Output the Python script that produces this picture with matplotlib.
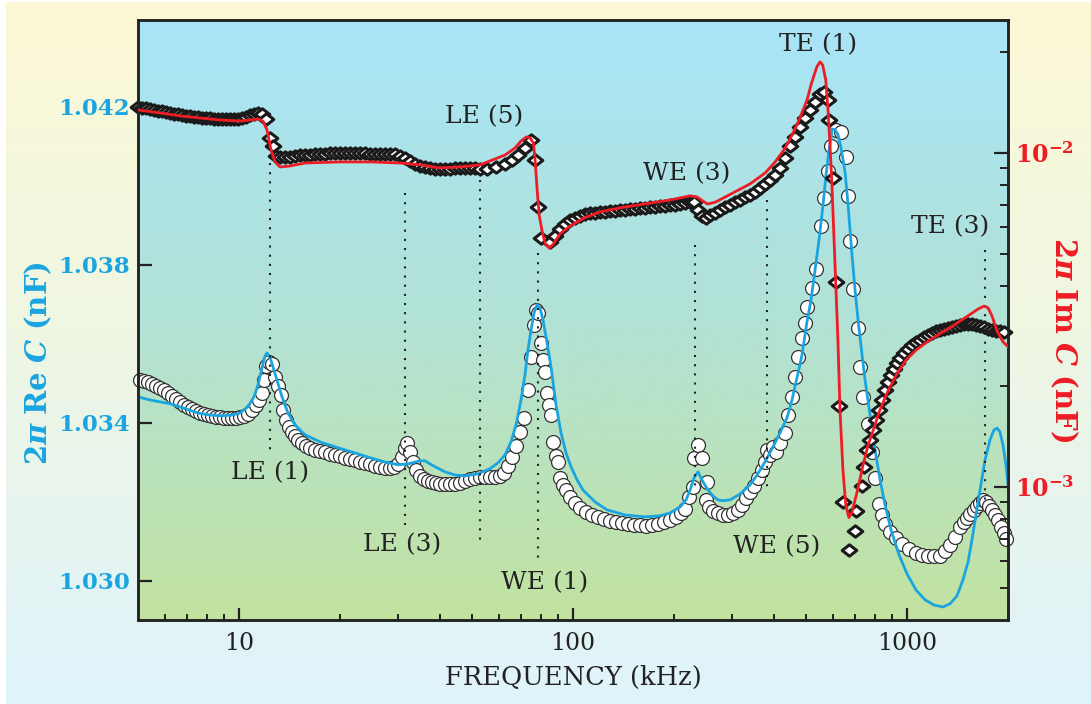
import numpy as np
import matplotlib
matplotlib.use("Agg")
import matplotlib.pyplot as plt
from matplotlib.path import Path
from matplotlib.ticker import FixedLocator, NullFormatter
from matplotlib.colors import LinearSegmentedColormap

plt.rcParams['font.family'] = 'DejaVu Serif'
plt.rcParams['mathtext.fontset'] = 'dejavuserif'

# ---------------------------------------------------------------- data
# Imaginary part, measured (kHz, units of 1e-3 nF)
freq_im = [4.985, 5.124, 5.267, 5.414, 5.566, 5.721, 5.881, 6.045, 6.214, 6.388,
           6.566, 6.749, 6.938, 7.132, 7.331, 7.536, 7.746, 7.963, 8.185, 8.414,
           8.649, 8.890, 9.139, 9.394, 9.660, 9.931, 10.21, 10.49, 10.79, 11.09,
           11.40, 11.72, 12.05, 12.38, 12.64, 12.90,
           13.27, 13.73, 14.21, 14.72, 15.22, 15.76, 16.32, 16.89, 17.48, 18.09,
           18.73, 19.39, 20.06, 20.77, 21.49, 22.25, 23.03, 23.84, 24.68, 25.54,
           26.44, 27.36, 28.32, 29.32, 30.34, 31.41, 32.51, 33.65, 34.83, 36.06,
           37.32, 38.63, 39.98, 41.39, 42.83, 44.34, 45.89, 47.50, 49.17, 50.89,
           52.68, 55.28, 58.82, 62.58, 65.68, 68.46, 71.83, 74.87, 76.96, 78.58, 80.21,
           85.34, 88.34, 91.44, 94.63, 97.95, 101.4, 104.9, 108.6, 112.4, 116.4,
           120.4, 124.7, 129.1, 133.6, 138.3, 143.1, 148.2, 153.3, 158.7, 164.3,
           170.1, 176.1, 182.2, 188.6, 195.2, 202.1, 209.2, 216.5, 224.1, 230.4,
           236.8, 243.4, 250.1, 257.1, 266.1, 275.5, 285.1, 295.2, 305.5, 316.2,
           327.3, 338.8, 350.6, 362.9, 375.7, 388.8, 402.5, 416.7, 431.2, 446.3,
           462.0, 478.2, 495.0, 512.4, 529.0, 549.0, 562.8, 578.5, 582.5, 598.8,
           611.3, 624.1, 641.6, 701.7, 696.9, 668.6,
           733.4, 743.6, 759.1, 774.9, 791.1, 807.6, 824.6, 841.8, 859.4, 877.4,
           895.7, 914.5, 933.5, 952.8, 979.5, 1007, 1035, 1064, 1094, 1124,
           1156, 1188, 1221, 1256, 1291, 1327, 1364, 1402, 1441, 1482,
           1522, 1565, 1609, 1654, 1700, 1748, 1797, 1847, 1898, 1952]
im_data = [13.73, 13.64, 13.64, 13.55, 13.45, 13.36, 13.36, 13.27, 13.18, 13.09,
           13.09, 12.99, 12.91, 12.91, 12.82, 12.82, 12.73, 12.73, 12.73, 12.64,
           12.64, 12.64, 12.64, 12.64, 12.64, 12.64, 12.73, 12.82, 12.99, 13.09,
           13.18, 13.09, 12.64, 11.09, 10.49, 9.80,
           9.73, 9.73, 9.73, 9.80, 9.86, 9.86, 9.86, 9.93, 9.93, 9.93,
           10.00, 10.00, 10.00, 10.00, 10.00, 10.00, 10.00, 10.00, 9.93, 9.93,
           9.93, 9.93, 9.93, 9.93, 9.80, 9.66, 9.46, 9.27, 9.14, 9.08,
           9.02, 8.96, 8.96, 8.96, 8.96, 9.02, 9.02, 9.02, 9.02, 9.02,
           8.96, 8.96, 9.08, 9.27, 9.53, 9.86, 10.35, 10.94, 9.53, 6.89, 5.57,
           5.41, 5.64, 5.92, 6.13, 6.30, 6.39, 6.48, 6.57, 6.61, 6.61,
           6.66, 6.66, 6.71, 6.71, 6.75, 6.75, 6.80, 6.80, 6.85, 6.85,
           6.89, 6.89, 6.94, 6.94, 6.99, 6.99, 7.03, 7.08, 7.13, 7.13,
           6.75, 6.48, 6.39, 6.52, 6.61, 6.75, 6.89, 6.99, 7.13, 7.23,
           7.38, 7.49, 7.64, 7.86, 8.08, 8.30, 8.59, 9.02, 9.66, 10.49,
           11.17, 11.96, 12.73, 13.45, 14.22, 15.01, 15.22, 14.41, 12.55, 8.41,
           4.11, 1.75, 0.90, 0.85, 0.74, 0.65,
           1.007, 1.148, 1.291, 1.383, 1.482, 1.588, 1.700, 1.822, 1.952, 2.063,
           2.164, 2.256, 2.351, 2.433, 2.518, 2.589, 2.661, 2.717, 2.754, 2.812,
           2.851, 2.891, 2.931, 2.951, 2.972, 2.992, 3.013, 3.034, 3.055, 3.076,
           3.076, 3.076, 3.055, 3.034, 3.013, 2.972, 2.951, 2.931, 2.931, 2.911]

# Imaginary part, model curve
freq_im_fit = [4.985, 5.80, 6.66, 7.64, 8.77, 10.07, 10.79, 11.40, 11.80, 12.13,
               12.47, 12.82, 13.27, 14.21, 15.77, 20.06, 24.85, 30.34, 35.1, 39.7,
               45.89, 52.68, 62.6, 67.1, 69.9, 72.6, 74.36, 76.1, 77.0, 78.1,
               79.2, 80.9, 82.46, 84.9, 87.3, 91.44, 97.95, 107.9, 120.4, 138.3,
               170.1, 195.2, 224.1, 235.5, 244.6, 253.0, 267.3, 301, 339, 376,
               403, 432, 456, 478, 502, 518, 537, 549, 559, 571,
               580, 588, 596, 608, 621, 630, 643, 656, 670, 684,
               713, 738, 764, 796, 824, 871, 927, 993, 1064, 1172,
               1345, 1492, 1632, 1700, 1748, 1797, 1860, 1939, 2006]
im_fit = [13.45, 13.18, 12.91, 12.73, 12.55, 12.46, 12.55, 12.64, 12.46, 11.72,
          10.21, 9.40, 9.08, 9.14, 9.33, 9.40, 9.40, 9.33, 9.21, 9.02,
          9.08, 9.21, 9.86, 10.35, 10.86, 11.17, 11.10, 10.71, 9.53, 7.75,
          6.52, 5.80, 5.37, 5.19, 5.34, 5.73, 6.04, 6.39, 6.66, 6.85,
          7.08, 7.23, 7.44, 7.38, 7.18, 7.03, 7.13, 7.59, 8.08, 8.71,
          9.40, 10.35, 11.48, 12.73, 14.41, 16.21, 18.10, 18.73, 18.34, 16.54,
          13.45, 10.57, 8.02, 4.78, 2.76, 1.70, 1.12, 0.88, 0.81, 0.84,
          0.99, 1.16, 1.33, 1.50, 1.67, 1.91, 2.16, 2.40, 2.57, 2.76,
          3.00, 3.21, 3.41, 3.48, 3.44, 3.25, 2.93, 2.72, 2.63]

# Real part, measured (kHz, nF)
freq_re = [5.053, 5.194, 5.339, 5.489, 5.643, 5.800, 5.962, 6.129, 6.300, 6.476,
           6.657, 6.843, 7.034, 7.231, 7.433, 7.641, 7.854, 8.074, 8.300, 8.531,
           8.770, 9.015, 9.267, 9.529, 9.795, 10.07, 10.35, 10.64, 10.94, 11.25,
           11.48, 11.72, 11.88, 12.05, 12.30, 12.55, 12.81, 13.08, 13.36, 13.55,
           13.83, 14.12, 14.41, 14.71, 15.02, 15.43, 15.86, 16.32, 16.89, 17.48,
           18.09, 18.73, 19.39, 20.06, 20.77, 21.49, 22.25, 23.03, 23.84, 24.68,
           25.54, 26.44, 27.36, 28.32, 29.11, 29.93, 30.76, 31.41, 31.84, 32.51,
           33.19, 33.88, 34.83, 35.80, 36.80, 37.84, 38.90, 39.98, 41.39, 42.83,
           44.34, 45.89, 47.50, 49.17, 50.89, 52.68, 54.52, 56.44, 58.42, 60.46,
           62.15, 63.89, 65.68, 67.51, 69.40, 71.34, 73.33, 74.87, 76.43, 77.50,
           78.58, 80.21, 81.32, 82.46, 83.60, 84.76, 85.93, 87.12, 88.94, 90.18,
           91.44, 93.35, 95.30, 97.95, 101.4, 104.9, 109.3, 114.0, 118.8, 123.8,
           129.1, 134.5, 140.2, 146.1, 152.3, 158.7, 165.4, 172.5, 179.7, 187.3,
           195.2, 203.4, 210.6, 216.5, 222.6, 228.8, 230.4, 236.8, 243.3, 251.9,
           250.1, 255.4, 262.5, 271.7, 281.3, 291.1, 301.4, 311.9, 320.6, 329.5,
           338.8, 348.3, 358.0, 367.9, 375.6, 380.8, 388.8, 396.9, 405.2, 416.7,
           431.3, 440.3, 452.5, 462.0, 471.6, 484.8, 495.0, 501.8, 519.5, 534.0,
           552.8, 564.3, 580.1, 592.4, 613.1, 634.7, 656.9, 666.0, 675.1, 689.2,
           713.4, 723.3, 738.4, 764.3, 785.7, 802.1, 824.5, 841.9, 859.5, 889.5,
           927.0, 966.0, 1014, 1064, 1109, 1156, 1205, 1256, 1300, 1345,
           1392, 1441, 1481, 1512, 1544, 1587, 1620, 1654, 1689, 1724,
           1760, 1797, 1834, 1872, 1911, 1951, 1978]
re_data = [1.03509, 1.03506, 1.03504, 1.03499, 1.03494, 1.03489, 1.03484, 1.03476, 1.03468, 1.03461,
           1.03453, 1.03446, 1.03441, 1.03435, 1.03430, 1.03425, 1.03423, 1.03420, 1.03418, 1.03415,
           1.03415, 1.03413, 1.03413, 1.03413, 1.03413, 1.03415, 1.03418, 1.03423, 1.03433, 1.03446,
           1.03458, 1.03476, 1.03509, 1.03544, 1.03554, 1.03549, 1.03516, 1.03494, 1.03471, 1.03433,
           1.03408, 1.03390, 1.03377, 1.03367, 1.03357, 1.03349, 1.03342, 1.03337, 1.03332, 1.03329,
           1.03327, 1.03322, 1.03319, 1.03316, 1.03311, 1.03309, 1.03306, 1.03301, 1.03299, 1.03296,
           1.03291, 1.03289, 1.03286, 1.03286, 1.03289, 1.03296, 1.03314, 1.03337, 1.03349, 1.03327,
           1.03301, 1.03281, 1.03266, 1.03258, 1.03253, 1.03251, 1.03248, 1.03246, 1.03246, 1.03246,
           1.03246, 1.03248, 1.03253, 1.03258, 1.03261, 1.03263, 1.03263, 1.03263, 1.03263, 1.03266,
           1.03273, 1.03291, 1.03314, 1.03342, 1.03377, 1.03413, 1.03484, 1.03567, 1.03648, 1.03686,
           1.03678, 1.03603, 1.03559, 1.03529, 1.03476, 1.03446, 1.03420, 1.03352, 1.03316, 1.03301,
           1.03261, 1.03243, 1.03230, 1.03213, 1.03197, 1.03185, 1.03175, 1.03167, 1.03162, 1.03157,
           1.03152, 1.03149, 1.03147, 1.03144, 1.03142, 1.03142, 1.03139, 1.03142, 1.03144, 1.03149,
           1.03154, 1.03162, 1.03172, 1.03182, 1.03213, 1.03238, 1.03311, 1.03344, 1.03311, 1.03251,
           1.03205, 1.03187, 1.03177, 1.03172, 1.03167, 1.03167, 1.03172, 1.03180, 1.03192, 1.03210,
           1.03225, 1.03241, 1.03261, 1.03281, 1.03301, 1.03332, 1.03319, 1.03339, 1.03327, 1.03349,
           1.03375, 1.03420, 1.03466, 1.03516, 1.03567, 1.03615, 1.03653, 1.03694, 1.03742, 1.03790,
           1.03899, 1.03970, 1.04038, 1.04101, 1.04142, 1.04137, 1.04073, 1.03975, 1.03861, 1.03739,
           1.03641, 1.03542, 1.03466, 1.03397, 1.03327, 1.03261, 1.03195, 1.03167, 1.03144, 1.03124,
           1.03109, 1.03094, 1.03081, 1.03071, 1.03066, 1.03063, 1.03063, 1.03063, 1.03076, 1.03091,
           1.03111, 1.03137, 1.03149, 1.03159, 1.03170, 1.03180, 1.03190, 1.03197, 1.03205, 1.03200,
           1.03190, 1.03180, 1.03167, 1.03154, 1.03137, 1.03122, 1.03106]

# Real part, model curve
freq_re_fit = [4.985, 5.414, 6.257, 7.536, 8.186, 8.831, 9.529, 10.07, 10.64, 11.09,
               11.40, 11.72, 11.97, 12.13, 12.38, 12.64, 12.99, 13.45, 14.02, 14.71,
               15.75, 17.48, 19.79, 22.25, 24.85, 27.36, 29.93, 32.06, 33.65, 34.83,
               36.06, 37.32, 38.63, 41.39, 44.34, 47.50, 51.96, 56.44, 59.64, 62.58,
               65.23, 67.51, 69.88, 71.83, 73.33, 74.87, 76.43, 78.03, 79.66, 81.32,
               83.60, 85.93, 88.94, 92.07, 95.30, 98.63, 102.8, 107.1, 116.4, 126.3,
               143.1, 164.3, 182.2, 195.2, 209.2, 218.0, 224.1, 230.4, 236.8, 240.0,
               245.0, 253.6, 262.5, 271.7, 281.3, 295.2, 316.2, 338.8, 355.5, 375.6,
               396.9, 416.7, 437.3, 452.5, 468.3, 484.8, 501.8, 515.9, 530.4, 545.2,
               560.5, 572.2, 584.1, 592.4, 596.5, 609.0, 621.7, 634.7, 652.4, 666.0,
               684.5, 698.8, 713.4, 733.4, 748.7, 774.9, 802.1, 830.4, 859.5, 895.6,
               946.4, 999.9, 1064, 1132, 1205, 1282, 1345, 1411, 1471, 1523,
               1565, 1609, 1654, 1712, 1772, 1821, 1860, 1898, 1938, 1978, 2006]
re_fit = [1.03466, 1.03458, 1.03448, 1.03425, 1.03420, 1.03418, 1.03420, 1.03425, 1.03441, 1.03466,
          1.03496, 1.03539, 1.03570, 1.03577, 1.03567, 1.03542, 1.03509, 1.03466, 1.03425, 1.03395,
          1.03370, 1.03352, 1.03337, 1.03324, 1.03311, 1.03301, 1.03294, 1.03296, 1.03301, 1.03304,
          1.03304, 1.03296, 1.03289, 1.03276, 1.03268, 1.03266, 1.03271, 1.03284, 1.03299, 1.03319,
          1.03352, 1.03395, 1.03458, 1.03522, 1.03585, 1.03635, 1.03678, 1.03699, 1.03691, 1.03661,
          1.03603, 1.03542, 1.03446, 1.03375, 1.03324, 1.03289, 1.03256, 1.03230, 1.03200, 1.03180,
          1.03167, 1.03162, 1.03165, 1.03172, 1.03187, 1.03205, 1.03230, 1.03261, 1.03276, 1.03266,
          1.03251, 1.03230, 1.03215, 1.03205, 1.03203, 1.03205, 1.03220, 1.03243, 1.03268, 1.03301,
          1.03339, 1.03375, 1.03413, 1.03458, 1.03514, 1.03572, 1.03656, 1.03711, 1.03787, 1.03863,
          1.03952, 1.04028, 1.04091, 1.04121, 1.04144, 1.04142, 1.04129, 1.04096, 1.04035, 1.03952,
          1.03825, 1.03737, 1.03661, 1.03572, 1.03509, 1.03420, 1.03332, 1.03256, 1.03192, 1.03129,
          1.03066, 1.03018, 1.02977, 1.02952, 1.02939, 1.02934, 1.02942, 1.02962, 1.03003, 1.03048,
          1.03104, 1.03167, 1.03230, 1.03306, 1.03357, 1.03382, 1.03387, 1.03377, 1.03344, 1.03294,
          1.03243]

# Resonance labels and their marker lines
mode_labels = ['LE (1)', 'LE (3)', 'LE (5)', 'WE (1)', 'WE (3)', 'WE (5)', 'TE (1)', 'TE (3)']
mode_label_freq = [12.4, 30.76, 54.15, 82.46, 219.5, 408.0, 541.5, 1345]
mode_label_re = [1.03273, 1.03091, 1.04175, 1.02995, 1.04030, 1.03086, 1.04357, 1.03896]
mode_line_freq = [12.38, 31.41, 52.68, 78.58, 232.0, 380.8, 1712]
mode_line_top = [1.04058, 1.03982, 1.04015, 1.03830, 1.03851, 1.03965, 1.03838]
mode_line_bottom = [1.03327, 1.03137, 1.03099, 1.03053, 1.03238, 1.03235, 1.03192]

re_ticks = [1.030, 1.034, 1.038, 1.042]

# ---------------------------------------------------------------- style
CYAN = '#1aa5e0'
RED = '#ee1c24'
INK = '#222222'

W, H = 1091, 704
fig = plt.figure(figsize=(W / 100, H / 100), dpi=100)

# figure background gradient (pale yellow -> pale cyan)
bg = fig.add_axes([6 / W, 0, 1 - 6 / W, 1 - 2 / H], zorder=-10)
bg.imshow(np.linspace(0, 1, 256).reshape(-1, 1), aspect='auto', origin='upper',
          extent=[0, 1, 0, 1],
          cmap=LinearSegmentedColormap.from_list('fig', ['#fcf8d5', '#eef6e4', '#dff3fb']))
bg.set_axis_off()

pos = [138 / W, (H - 620) / H, 870 / W, 600 / H]
pbg = fig.add_axes(pos, zorder=-5)
pbg.imshow(np.linspace(0, 1, 256).reshape(-1, 1), aspect='auto', origin='upper',
           extent=[0, 1, 0, 1],
           cmap=LinearSegmentedColormap.from_list('plot', ['#a8e5f8', '#b2e2d6', '#c2e2a0']))
pbg.set_axis_off()

ax = fig.add_axes(pos)
ax.patch.set_visible(False)
ax2 = ax.twinx()

# real part (left axis)
ax.plot(freq_re, re_data, ls='none', marker='o', ms=10, mfc='white', mec='#333333',
        mew=0.9, clip_on=False, zorder=2)
ax.plot(freq_re_fit, re_fit, color=CYAN, lw=2.0, zorder=3)

for f, y0, y1 in zip(mode_line_freq, mode_line_top, mode_line_bottom):
    ax.plot([f, f], [y0, y1], color=INK, lw=1.5, ls=(0, (1, 3.4)), zorder=4)
for lab, f, y in zip(mode_labels, mode_label_freq, mode_label_re):
    ax.text(f, y, lab, ha='center', va='center', fontsize=18, color=INK, zorder=5)

# imaginary part (right axis)
diamond = Path([(-1, 0), (0, 0.78), (1, 0), (0, -0.78), (-1, 0)],
               [Path.MOVETO, Path.LINETO, Path.LINETO, Path.LINETO, Path.CLOSEPOLY])
ax2.plot(freq_im, np.array(im_data) * 1e-3, ls='none', marker=diamond, ms=10.5,
         mfc='white', mec='#1a1a1a', mew=2.2, clip_on=False, zorder=2)
ax2.plot(freq_im_fit, np.array(im_fit) * 1e-3, color=RED, lw=2.0, zorder=3)

# axes scales and ticks
ax.set_xscale('log')
ax.set_xlim(4.985, 2006)
ax.set_ylim(1.02901, 1.04420)
ax.set_xticks([10, 100, 1000], labels=['10', '100', '1000'])
ax.xaxis.set_minor_locator(FixedLocator(
    [6, 7, 8, 9, 20, 30, 40, 50, 60, 70, 80, 90, 200, 300, 400, 500, 600, 700, 800, 900, 2000]))
ax.xaxis.set_minor_formatter(NullFormatter())
ax.set_yticks(re_ticks, labels=['%.3f' % v for v in re_ticks])
for t in ax.get_yticklabels():
    t.set_fontweight('bold')
ax.tick_params(axis='x', which='major', direction='in', length=9, width=1.6,
               pad=9, labelsize=17, labelcolor=INK, color=INK)
ax.tick_params(axis='x', which='minor', direction='in', length=4.5, width=1.4, color=INK)
ax.tick_params(axis='y', which='major', direction='in', length=10, width=1.6,
               pad=6, labelsize=16.5, labelcolor=CYAN, color=INK)

ax2.set_yscale('log')
ax2.set_ylim(4.0e-4, 2.5e-2)
ax2.set_yticks([1e-3, 1e-2], labels=[r'$\mathbf{10^{-3}}$', r'$\mathbf{10^{-2}}$'])
ax2.yaxis.set_minor_locator(FixedLocator(
    [5e-4, 6e-4, 7e-4, 8e-4, 9e-4, 2e-3, 3e-3, 4e-3, 5e-3, 6e-3, 7e-3, 8e-3, 9e-3, 2e-2]))
ax2.yaxis.set_minor_formatter(NullFormatter())
ax2.tick_params(axis='y', which='major', direction='in', length=10, width=1.6,
                pad=5, labelsize=17, labelcolor=RED, color=INK)
ax2.tick_params(axis='y', which='minor', direction='in', length=6, width=1.4, color=INK)

for a in (ax, ax2):
    for s in a.spines.values():
        s.set_linewidth(1.8)
        s.set_color(INK)

# axis titles
fig.text(573 / W, 1 - 677 / H, 'FREQUENCY (kHz)', ha='center', va='center',
         fontsize=18.5, color=INK)
fig.text(38 / W, 1 - 363 / H,
         r'$\mathbf{2}\mathbfit{\pi}\ \mathbf{Re}\ \mathbfit{C}\ \mathbf{(nF)}$',
         rotation=90, ha='center', va='center', fontsize=21, color=CYAN)
fig.text(1064 / W, 1 - 340 / H,
         r'$\mathbf{2}\mathbfit{\pi}\ \mathbf{Im}\ \mathbfit{C}\ \mathbf{(nF)}$',
         rotation=270, ha='center', va='center', fontsize=21, color=RED)

fig.savefig('out.png', dpi=100)
